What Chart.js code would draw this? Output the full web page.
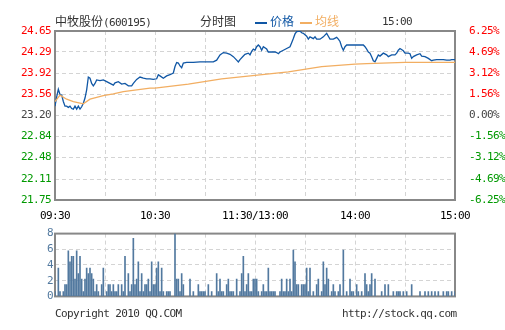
<!DOCTYPE html>
<html>
<head>
<meta charset="utf-8">
<script src="https://cdn.jsdelivr.net/npm/chart.js@4.4.0/dist/chart.umd.min.js"></script>
<style>
    body { margin: 0; background: #fff; }
    #page { position: relative; width: 505px; height: 330px; overflow: hidden; font-family: "DejaVu Sans Mono", monospace; color: #333; }
    #priceChart { position: absolute; left: 0; top: 0; }
    #volChart { position: absolute; left: 0; top: 225px; }
    .txt { position: absolute; font-size: 11px; letter-spacing: -0.6px; line-height: 14px; white-space: nowrap; }
    .cn { font-family: "Noto Sans CJK SC", sans-serif; font-size: 12px; letter-spacing: 0; }
    .key { display: inline-block; width: 12px; height: 2px; vertical-align: middle; margin-right: 3px; }
</style>
</head>
<body>
<div id="page">
    <canvas id="priceChart" width="505" height="230"></canvas>
    <canvas id="volChart" width="505" height="80"></canvas>

    <div class="txt" style="left:55px;top:14px;"><span class="cn">中牧股份</span>(600195)</div>
    <div class="txt cn" style="left:200px;top:14px;">分时图</div>
    <div class="txt cn" style="left:255px;top:14px;color:#1057a5;"><span class="key" style="background:#1057a5"></span>价格</div>
    <div class="txt cn" style="left:300px;top:14px;color:#f2ae62;"><span class="key" style="background:#f2ae62"></span>均线</div>
    <div class="txt" style="left:382px;top:15px;">15:00</div>

    <div class="txt" style="left:55px;top:307px;">Copyright 2010 QQ.COM</div>
    <div class="txt" style="left:342px;top:307px;">http://stock.qq.com</div>
</div>

<script>
// minutes since 09:30 (lunch break removed), 0..240
const xTicks = [0, 30, 60, 90, 120, 150, 180, 210, 240];
const xLabels = ["09:30", "", "10:30", "", "11:30/13:00", "", "14:00", "", "15:00"];

const priceTicks = [21.75, 22.11, 22.48, 22.84, 23.20, 23.56, 23.92, 24.29, 24.65];
const pctLabels = ["-6.25%", "-4.69%", "-3.12%", "-1.56%", "0.00%", "1.56%", "3.12%", "4.69%", "6.25%"];
const volTicks = [0, 2, 4, 6, 8];

const priceMin = [0, 1, 2, 3, 4, 5, 6, 7, 8, 9, 10, 11, 12, 13, 14, 15, 16, 17, 18, 19, 20, 21, 22, 23, 24, 25, 27, 29, 31, 33,
    35, 36, 38, 40, 42, 44, 46, 47, 49, 51, 53, 55, 57, 59, 61, 62, 63, 65, 67, 69, 71, 72, 73, 74, 75, 76, 77, 79, 83, 87,
    91, 95, 97, 99, 101, 103, 105, 107, 109, 110, 111, 113, 114, 116, 117, 118, 119, 120, 121, 122, 123, 124, 125, 127, 128, 130, 132, 133, 134, 135,
    137, 139, 141, 142, 143, 144, 145, 147, 148, 149, 151, 152, 153, 155, 156, 157, 159, 161, 163, 164, 165, 167, 169, 170, 171, 172, 173, 174, 175, 177,
    181, 185, 186, 187, 188, 189, 190, 191, 192, 193, 194, 195, 197, 199, 200, 202, 204, 205, 206, 207, 209, 210, 212, 213, 214, 215, 217, 219, 220, 222,
    224, 226, 227, 229, 233, 235, 237, 238, 240];
const priceVal = [23.36, 23.52, 23.65, 23.56, 23.55, 23.44, 23.36, 23.36, 23.34, 23.36, 23.32, 23.31, 23.36, 23.31, 23.36, 23.31, 23.35, 23.41, 23.50, 23.64, 23.86, 23.84, 23.75, 23.71, 23.75, 23.81, 23.80, 23.81, 23.78, 23.75,
    23.72, 23.76, 23.78, 23.74, 23.75, 23.71, 23.71, 23.75, 23.82, 23.86, 23.84, 23.83, 23.83, 23.82, 23.83, 23.90, 23.88, 23.84, 23.88, 23.90, 23.93, 24.04, 24.11, 24.10, 24.05, 24.02, 24.10, 24.11, 24.11, 24.12,
    24.12, 24.12, 24.15, 24.24, 24.28, 24.27, 24.25, 24.21, 24.15, 24.12, 24.16, 24.22, 24.25, 24.27, 24.24, 24.30, 24.34, 24.32, 24.38, 24.41, 24.38, 24.32, 24.38, 24.34, 24.29, 24.29, 24.29, 24.28, 24.26, 24.29,
    24.32, 24.35, 24.38, 24.45, 24.52, 24.60, 24.64, 24.65, 24.62, 24.61, 24.56, 24.51, 24.55, 24.52, 24.55, 24.51, 24.51, 24.55, 24.61, 24.56, 24.51, 24.51, 24.54, 24.51, 24.47, 24.38, 24.32, 24.38, 24.41, 24.41,
    24.41, 24.41, 24.38, 24.34, 24.29, 24.27, 24.21, 24.14, 24.12, 24.18, 24.24, 24.22, 24.27, 24.24, 24.21, 24.24, 24.24, 24.27, 24.32, 24.35, 24.31, 24.27, 24.27, 24.26, 24.18, 24.21, 24.24, 24.26, 24.22, 24.21,
    24.18, 24.14, 24.15, 24.16, 24.16, 24.15, 24.15, 24.16, 24.16];

const avgMin = [0, 3, 7, 11, 17, 21, 25, 29, 35, 41, 49, 57, 60, 80, 100, 120, 140, 160, 180, 187, 210, 240];
const avgVal = [23.44, 23.55, 23.48, 23.44, 23.40, 23.48, 23.51, 23.54, 23.57, 23.61, 23.64, 23.67, 23.67, 23.74, 23.83, 23.89, 23.95, 24.04, 24.08, 24.09, 24.11, 24.11];

const volMin = [0, 2, 3, 5, 6, 7, 8, 9, 10, 11, 12, 13, 14, 15, 16, 17, 18, 19, 20, 21, 22, 23, 24, 25, 26, 28, 29, 31, 32, 33,
    34, 35, 36, 37, 38, 40, 41, 42, 44, 45, 46, 47, 48, 49, 50, 51, 52, 53, 54, 55, 56, 57, 58, 59, 60, 61, 62, 63, 64, 65,
    67, 68, 69, 72, 73, 74, 75, 76, 77, 81, 83, 86, 87, 88, 89, 90, 92, 94, 97, 98, 99, 100, 101, 103, 104, 105, 106, 107, 109, 111,
    112, 113, 114, 115, 116, 117, 118, 119, 120, 121, 122, 124, 125, 126, 127, 128, 129, 130, 131, 132, 135, 136, 137, 138, 139, 140, 141, 142, 143, 144,
    145, 146, 148, 149, 150, 151, 152, 153, 155, 157, 158, 160, 161, 162, 163, 164, 166, 167, 168, 170, 171, 173, 175, 177, 178, 179, 181, 182, 184, 186,
    187, 188, 189, 190, 192, 196, 198, 200, 203, 205, 206, 207, 209, 211, 214, 219, 222, 224, 226, 228, 230, 233, 235, 236, 238, 240];
const volVal = [0.6, 3.6, 0.6, 0.6, 1.5, 1.5, 5.8, 4.4, 5.1, 5.1, 2.2, 5.8, 2.9, 5.1, 2.2, 0.6, 2.2, 3.6, 2.9, 3.6, 2.9, 2.2, 0.6, 1.5, 0.6, 1.5, 3.6, 0.6, 1.5, 1.5,
    0.6, 1.5, 0.6, 0.6, 1.5, 1.5, 0.6, 5.1, 2.9, 0.6, 1.5, 7.4, 1.5, 2.2, 4.4, 0.6, 2.9, 0.6, 1.5, 1.5, 2.2, 0.6, 4.4, 1.5, 1.5, 3.6, 4.4, 0.6, 3.6, 0.6,
    0.6, 0.6, 0.6, 8.0, 2.2, 2.2, 0.6, 2.9, 1.5, 2.2, 0.6, 1.5, 0.6, 0.6, 0.6, 0.6, 1.5, 0.6, 2.9, 0.6, 2.2, 0.6, 0.6, 1.5, 2.2, 0.6, 0.6, 0.6, 2.2, 0.6,
    2.9, 5.1, 0.6, 1.5, 2.9, 0.6, 0.6, 2.2, 2.2, 2.2, 0.6, 0.6, 1.5, 0.6, 0.6, 3.6, 0.6, 0.6, 0.6, 0.6, 0.6, 2.2, 0.6, 0.6, 2.2, 0.6, 2.2, 0.6, 5.9, 4.4,
    1.5, 1.5, 1.5, 1.5, 1.5, 3.6, 0.6, 3.6, 0.6, 1.5, 2.2, 0.6, 4.4, 1.5, 3.6, 2.2, 0.6, 1.5, 0.6, 0.6, 1.5, 5.9, 0.6, 2.2, 0.6, 0.6, 1.5, 0.6, 0.6, 2.9,
    1.5, 0.6, 1.5, 2.9, 2.2, 0.6, 1.5, 1.5, 0.6, 0.6, 0.6, 0.6, 0.6, 0.6, 1.5, 0.6, 0.6, 0.6, 0.6, 0.6, 0.6, 0.6, 0.6, 0.6, 0.6, 0.6];

const RED = '#ff0000', GREEN = '#009900', GREY = '#444';
const FONT = { family: '"DejaVu Sans Mono", monospace', size: 11 };
const GRID = '#d4d4d4';

// grey frame round the plot area, and tighter mono text like the original bitmap font
const frame = {
    id: 'frame',
    beforeDraw(chart) {
        chart.ctx.letterSpacing = '-0.6px';
    },
    beforeDatasetsDraw(chart) {
        const { ctx, chartArea: a } = chart;
        ctx.save();
        ctx.strokeStyle = '#888';
        ctx.lineWidth = 2;
        ctx.strokeRect(a.left, a.top, a.right - a.left, a.bottom - a.top);
        ctx.restore();
    }
};

const xAxis = (showLabels, height) => ({
    type: 'linear',
    min: 0,
    max: 240,
    offset: false,
    afterBuildTicks: axis => { axis.ticks = xTicks.map(v => ({ value: v })); },
    afterFit: axis => { axis.height = height; },
    grid: { color: GRID, drawTicks: false, offset: false },
    border: { display: false, dash: [4, 3] },
    ticks: {
        display: showLabels,
        autoSkip: false,
        maxRotation: 0,
        padding: 10,
        color: '#000',
        font: FONT,
        callback: v => xLabels[xTicks.indexOf(v)]
    }
});

const tickColor = ctx => ctx.index > 4 ? RED : (ctx.index < 4 ? GREEN : GREY);

new Chart(document.getElementById('priceChart'), {
    type: 'line',
    data: {
        datasets: [{
            label: '均线',
            data: avgMin.map((m, i) => ({ x: m, y: avgVal[i] })),
            borderColor: '#f2ae62',
            borderWidth: 1.3,
            pointRadius: 0,
            tension: 0
        }, {
            label: '价格',
            data: priceMin.map((m, i) => ({ x: m, y: priceVal[i] })),
            borderColor: '#1057a5',
            borderWidth: 1.3,
            pointRadius: 0,
            tension: 0
        }]
    },
    options: {
        responsive: false,
        animation: false,
        layout: { padding: { top: 31, left: 0, right: 0, bottom: 0 } },
        plugins: { legend: { display: false }, tooltip: { enabled: false } },
        scales: {
            x: xAxis(true, 30),
            y: {
                position: 'left',
                min: 21.75,
                max: 24.65,
                afterBuildTicks: axis => { axis.ticks = priceTicks.map(v => ({ value: v })); },
                afterFit: axis => { axis.width = 55; },
                grid: { color: GRID, drawTicks: false },
                border: { display: false, dash: [4, 3] },
                ticks: { padding: 4, autoSkip: false, font: FONT, color: tickColor, callback: (v, i) => priceTicks[i].toFixed(2) }
            },
            y2: {
                position: 'right',
                min: 21.75,
                max: 24.65,
                afterBuildTicks: axis => { axis.ticks = priceTicks.map(v => ({ value: v })); },
                afterFit: axis => { axis.width = 50; },
                grid: { display: false, drawTicks: false },
                border: { display: false },
                ticks: { padding: 14, autoSkip: false, font: FONT, color: tickColor, callback: (v, i) => pctLabels[i] }
            }
        }
    },
    plugins: [frame]
});

new Chart(document.getElementById('volChart'), {
    type: 'bar',
    data: {
        datasets: [{
            data: volMin.map((m, i) => ({ x: m, y: volVal[i] })),
            backgroundColor: '#52799f',
            barThickness: 1
        }]
    },
    options: {
        responsive: false,
        animation: false,
        layout: { padding: { top: 6, left: 0, right: 50, bottom: 5 } },
        plugins: { legend: { display: false }, tooltip: { enabled: false } },
        scales: {
            x: xAxis(false, 0),
            y: {
                min: 0,
                max: 8,
                afterBuildTicks: axis => { axis.ticks = volTicks.map(v => ({ value: v })); },
                afterFit: axis => { axis.width = 55; },
                grid: { color: GRID, drawTicks: false },
                border: { display: false, dash: [4, 3] },
                ticks: { padding: 2, autoSkip: false, font: FONT, color: '#52799f' }
            }
        }
    },
    plugins: [frame]
});
</script>
</body>
</html>
